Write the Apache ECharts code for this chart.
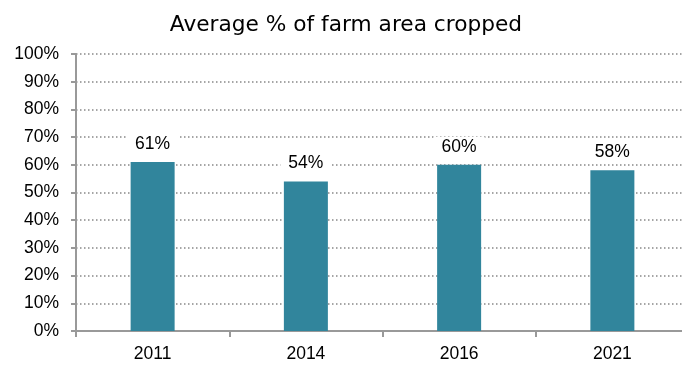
<!DOCTYPE html>
<html>
<head>
<meta charset="utf-8">
<script src="https://cdn.jsdelivr.net/npm/echarts@6/dist/echarts.min.js"></script>
<style>
  html, body { margin: 0; padding: 0; background: #fff; overflow: hidden; }
  /* the plot's last category band runs a few pixels past the window edge */
  #chart { width: 689px; height: 365px; }
</style>
</head>
<body>
<div id="chart"></div>
<script>
// Survey years and the average share of farm area that was cropped
const years = ['2011', '2014', '2016', '2021'];
const croppedPct = [61, 54, 60, 58];
const yTicks = { min: 0, max: 100, interval: 10 };

const chart = echarts.init(document.getElementById('chart'));
const labelFont = 'Liberation Sans, Arial, sans-serif';

chart.setOption({
  animation: false,
  title: {
    text: 'Average % of farm area cropped',
    left: 341,
    textAlign: 'center',
    top: 9,
    textStyle: {
      fontFamily: 'DejaVu Sans, Verdana, sans-serif',
      fontSize: 21.7,
      fontWeight: 'normal',
      color: '#000'
    }
  },
  grid: { left: 76, top: 54, bottom: 34, right: 0 },
  xAxis: {
    type: 'category',
    data: years,
    axisLine: { lineStyle: { color: '#999', width: 2 } },
    axisTick: { show: true, length: 6, lineStyle: { color: '#999', width: 2 } },
    axisLabel: { color: '#000', fontSize: 17.5, fontFamily: labelFont, margin: 14 }
  },
  yAxis: {
    type: 'value',
    min: yTicks.min,
    max: yTicks.max,
    interval: yTicks.interval,
    axisLine: { show: true, lineStyle: { color: '#999', width: 2 } },
    axisTick: { show: true, length: 5, lineStyle: { color: '#999', width: 2 } },
    axisLabel: {
      color: '#000', fontSize: 17.5, fontFamily: labelFont, margin: 17,
      formatter: v => v + '%'
    },
    splitLine: { lineStyle: { color: '#888', width: 1.5, type: [1.5, 2.5] } }
  },
  series: [{
    type: 'bar',
    data: croppedPct,
    barWidth: 44,
    itemStyle: { color: '#31859C' },
    label: {
      show: true,
      position: 'top',
      distance: 8,
      formatter: p => p.value + '%',
      color: '#000',
      fontSize: 17.5,
      fontFamily: labelFont,
      backgroundColor: '#fff',
      padding: [1, 8]
    }
  }]
});
</script>
</body>
</html>
